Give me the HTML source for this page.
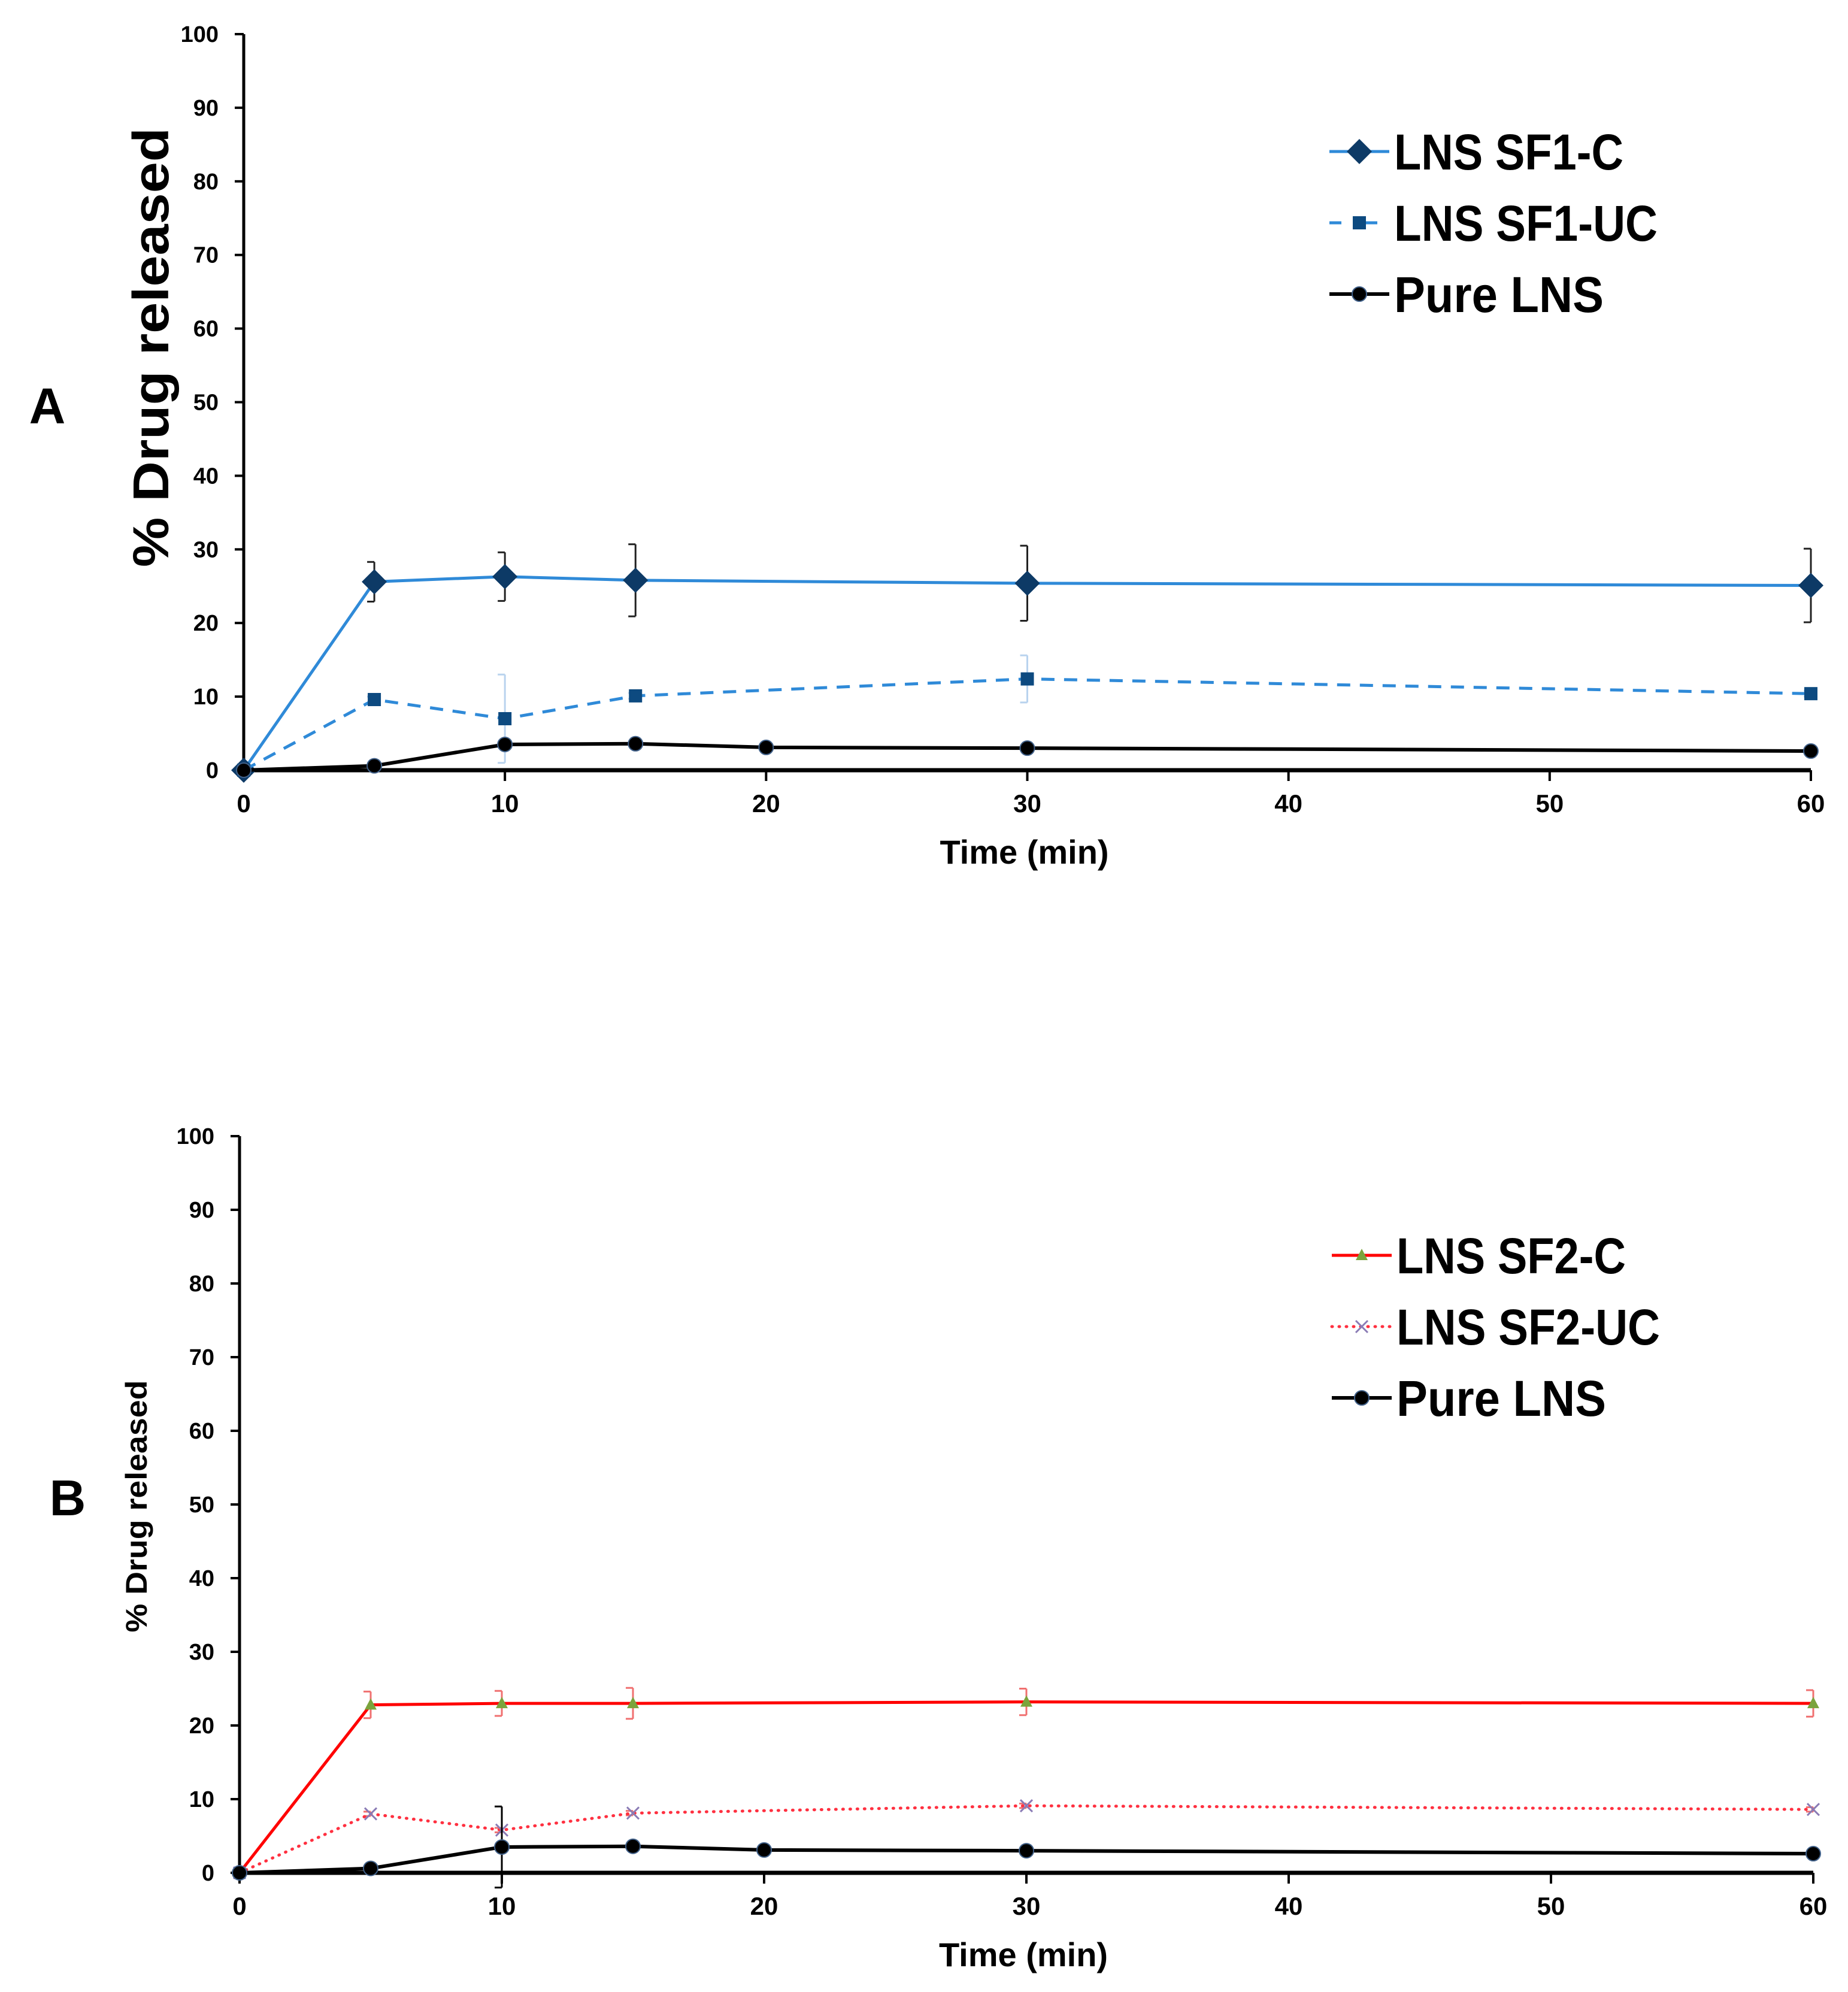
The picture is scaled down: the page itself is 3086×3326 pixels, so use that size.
<!DOCTYPE html>
<html><head><meta charset="utf-8">
<style>
html,body{margin:0;padding:0;background:#fff;}
svg{display:block;}
text{font-family:"Liberation Sans Narrow","Liberation Sans",sans-serif;font-weight:bold;fill:#000;}
</style></head>
<body>
<svg id="chart" xmlns="http://www.w3.org/2000/svg" width="3086" height="3326" viewBox="0 0 3086 3326">
<rect width="3086" height="3326" fill="#fff"/>
</svg>
<script>
const yTicks = [0,10,20,30,40,50,60,70,80,90,100];
const xTicks = [0,10,20,30,40,50,60];
const timesC = [0,5,10,15,30,60];
const timesPure = [0,5,10,15,20,30,60];
const sf1C = [0,25.6,26.3,25.8,25.4,25.1];
const sf1CErr = [0,2.7,3.3,4.9,5.1,5.0];
const sf1UC = [0,9.6,7.0,10.1,12.4,10.4];
const sf1UCErr = [0,0.4,6.0,0.4,3.2,0.4];
const pureA = [0,0.6,3.5,3.6,3.1,3.0,2.6];
const pureAErr = [0,0,0,0,0,0,0];
const sf2C = [0,22.8,23.0,23.0,23.2,23.0];
const sf2CErr = [0,1.8,1.7,2.1,1.8,1.8];
const sf2UC = [0,8.0,5.8,8.1,9.1,8.6];
const sf2UCErr = [0,0.3,0.3,0.3,0.3,0.3];
const pureB = [0,0.6,3.5,3.6,3.1,3.0,2.6];
const pureBErr = [0,0,5.5,0,0,0,0];

const NS = "http://www.w3.org/2000/svg";
const svg = document.getElementById('chart');
function mk(tag, attrs, parent){
  const e = document.createElementNS(NS, tag);
  for (const k in attrs) e.setAttribute(k, attrs[k]);
  (parent||svg).appendChild(e);
  return e;
}

function marker(g, kind, cx, cy){
  let m;
  if (kind==='diamond'){
    m = mk('polygon',{points:`${cx},${cy-21} ${cx+21},${cy} ${cx},${cy+21} ${cx-21},${cy}`,fill:'#0d3a66'},g);
  } else if (kind==='square'){
    m = mk('rect',{x:cx-11,y:cy-11,width:22,height:22,fill:'#0d4a80'},g);
  } else if (kind==='circle'){
    m = mk('circle',{cx:cx,cy:cy,r:12,fill:'#000',stroke:'#41618a','stroke-width':2},g);
  } else if (kind==='triangle'){
    m = mk('polygon',{points:`${cx},${cy-11} ${cx+10},${cy+8} ${cx-10},${cy+8}`,fill:'#7ba43c'},g);
  } else if (kind==='cross'){
    m = mk('path',{d:`M${cx-10},${cy-10}L${cx+10},${cy+10}M${cx-10},${cy+10}L${cx+10},${cy-10}`,stroke:'#8a7bb5','stroke-width':3},g);
  }
  return m;
}

function panel(cfg){
  const g = mk('g',{});
  
  
  const X = v => cfg.x0 + (cfg.x1-cfg.x0)*v/60;
  const Y = v => cfg.y0 - (cfg.y0-cfg.y100)*v/100;
  const ya = mk('line',{x1:cfg.x0,y1:cfg.y100,x2:cfg.x0,y2:cfg.y0,stroke:'#000','stroke-width':5},g);
  
  
  const xa = mk('line',{x1:cfg.x0,y1:cfg.y0,x2:cfg.x1,y2:cfg.y0,stroke:'#000','stroke-width':7},g);
  
  
  yTicks.forEach(t=>{
    mk('line',{x1:cfg.x0-15,y1:Y(t),x2:cfg.x0,y2:Y(t),stroke:'#000','stroke-width':4},g);
    const tx = mk('text',{x:cfg.x0-42,y:Y(t)+13,'text-anchor':'end','font-size':38},g);
    tx.textContent = t;
    
    
  });
  xTicks.forEach(t=>{
    mk('line',{x1:X(t),y1:cfg.y0,x2:X(t),y2:cfg.y0+18,stroke:'#000','stroke-width':4},g);
    const tx = mk('text',{x:X(t),y:cfg.y0+70,'text-anchor':'middle','font-size':42},g);
    tx.textContent = t;
    
    
  });
  const xt = mk('text',{x:X(30)-5,y:cfg.y0+156,'text-anchor':'middle','font-size':56},g);
  xt.textContent = 'Time (min)';
  
  
  const yt = mk('text',{x:0,y:0,'text-anchor':'middle','font-size':cfg.ytSize,'font-family':'Liberation Sans, sans-serif',textLength:cfg.ytLen,lengthAdjust:'spacingAndGlyphs',transform:`translate(${cfg.ytX},${cfg.ytY}) rotate(-90)`},g);
  yt.textContent = '% Drug released';
  
  
  const lab = mk('text',{x:cfg.labX,y:cfg.labY,'text-anchor':'middle','font-size':84,'font-family':'Liberation Sans, sans-serif'},g);
  lab.textContent = cfg.label;
  
  

  cfg.series.forEach((s,si)=>{
    const sg = mk('g',{},g);
    
    
    s.vals.forEach((v,i)=>{
      const e = s.err[i];
      if (e>0){
        const cx = X(s.times[i]);
        mk('path',{d:`M${cx},${Y(v+e)}L${cx},${Y(v-e)}M${cx-12},${Y(v+e)}L${cx},${Y(v+e)}M${cx-12},${Y(v-e)}L${cx},${Y(v-e)}`,stroke:s.errColor,'stroke-width':3,fill:'none'},sg);
      }
    });
    const pts = s.vals.map((v,i)=>`${X(s.times[i])},${Y(v)}`).join(' ');
    const pl = mk('polyline',{points:pts,fill:'none',stroke:s.color,'stroke-width':s.width,'stroke-dasharray':s.dash||'none','stroke-linecap':s.cap||'butt'},sg);
    
    
    s.vals.forEach((v,i)=>{
      const m = marker(sg, s.marker, X(s.times[i]), Y(v));
      
      
    });
    const ly = cfg.legY + si*cfg.legGap;
    const lg = mk('g',{},g);
    
    
    mk('line',{x1:cfg.legX,y1:ly,x2:cfg.legX+100,y2:ly,stroke:s.color,'stroke-width':s.width,'stroke-dasharray':s.legDash||'none','stroke-linecap':s.cap||'butt'},lg);
    marker(lg, s.marker, cfg.legX+50, ly);
    const lt = mk('text',{x:cfg.legX+108,y:ly+30,'font-size':84,textLength:s.legLen,lengthAdjust:'spacingAndGlyphs'},lg);
    lt.textContent = s.label;
  });
}

panel({name:'panel-a',label:'A',labX:79,labY:707,x0:407,x1:3024,y0:1286,y100:57,
  ytX:281,ytY:580,ytSize:84,ytLen:734,legX:2220,legY:253,legGap:119,
  series:[
    {id:'sf1-c',label:'LNS SF1-C',times:timesC,vals:sf1C,err:sf1CErr,color:'#2f8ad8',width:5,marker:'diamond',errColor:'#222',legLen:383},
    {id:'sf1-uc',label:'LNS SF1-UC',times:timesC,vals:sf1UC,err:sf1UCErr,color:'#2f8ad8',width:5,dash:'22 16',legDash:'20 40',marker:'square',errColor:'#b9d3ee',legLen:440},
    {id:'pure-a',label:'Pure LNS',times:timesPure,vals:pureA,err:pureAErr,color:'#000',width:6,marker:'circle',errColor:'#000',legLen:350}
  ]});
panel({name:'panel-b',label:'B',labX:113,labY:2530,x0:400,x1:3028,y0:3127,y100:1897,
  ytX:245,ytY:2515,ytSize:50,ytLen:421,legX:2224,legY:2096,legGap:119,
  series:[
    {id:'sf2-c',label:'LNS SF2-C',times:timesC,vals:sf2C,err:sf2CErr,color:'#ff0000',width:5,marker:'triangle',errColor:'#f07070',legLen:383},
    {id:'sf2-uc',label:'LNS SF2-UC',times:timesC,vals:sf2UC,err:sf2UCErr,color:'#ff3040',width:5,dash:'1 11',legDash:'1 11',cap:'round',marker:'cross',errColor:'#f07070',legLen:440},
    {id:'pure-b',label:'Pure LNS',times:timesPure,vals:pureB,err:pureBErr,color:'#000',width:6,marker:'circle',errColor:'#000',legLen:350}
  ]});
</script>
</body></html>
